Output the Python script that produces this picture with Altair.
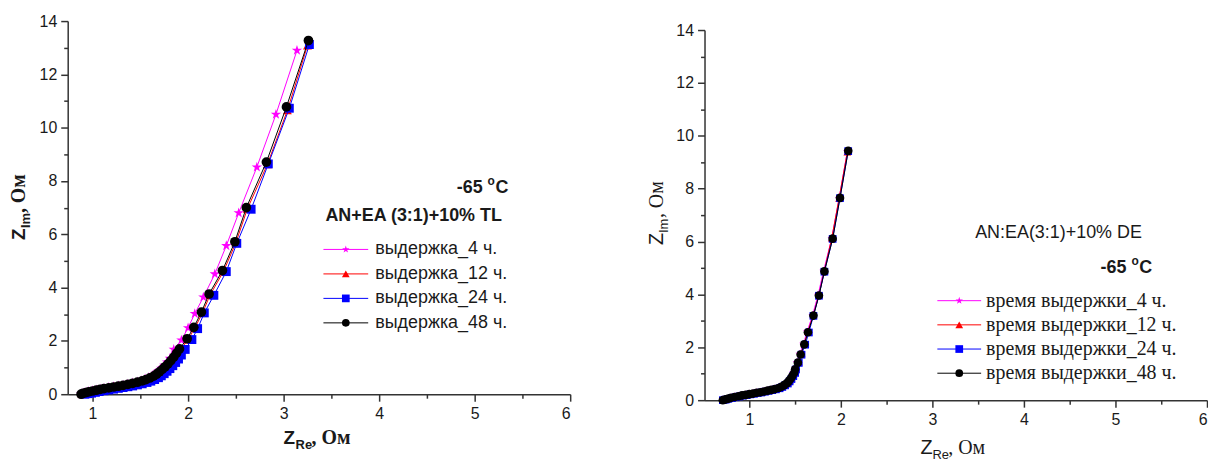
import altair as alt
import pandas as pd

# ---------------- data: left panel (AN+EA (3:1)+10% TL, -65 C) ----------------
L4_x = [0.88, 0.90, 0.93, 0.96, 1.00, 1.04, 1.08, 1.12, 1.17, 1.22, 1.27, 1.32, 1.37, 1.42, 1.47, 1.51, 1.55, 1.59,
        1.63, 1.66, 1.69, 1.72, 1.75, 1.78, 1.81, 1.85, 1.93, 2.00, 2.07, 2.16, 2.28, 2.40, 2.53, 2.72, 2.92, 3.14]
L4_y = [0.00, 0.04, 0.07, 0.10, 0.13, 0.16, 0.19, 0.22, 0.25, 0.28, 0.31, 0.34, 0.38, 0.42, 0.46, 0.51, 0.57, 0.63,
        0.70, 0.78, 0.87, 0.97, 1.08, 1.20, 1.34, 1.68, 2.03, 2.49, 3.02, 3.64, 4.51, 5.57, 6.80, 8.52, 10.50, 12.90]
L12_x = [0.89, 0.91, 0.94, 0.97, 1.01, 1.05, 1.09, 1.13, 1.18, 1.23, 1.28, 1.33, 1.38, 1.43, 1.48, 1.53, 1.57, 1.61,
         1.65, 1.68, 1.71, 1.74, 1.77, 1.80, 1.83, 1.86, 1.89, 1.92, 2.00, 2.07, 2.15, 2.23, 2.37, 2.50, 2.62, 2.83,
         3.04, 3.25]
L12_y = [0.02, 0.06, 0.09, 0.12, 0.15, 0.18, 0.21, 0.24, 0.27, 0.30, 0.33, 0.36, 0.39, 0.43, 0.47, 0.52, 0.57, 0.63,
         0.69, 0.76, 0.84, 0.93, 1.03, 1.13, 1.25, 1.38, 1.52, 1.67, 2.05, 2.48, 3.04, 3.72, 4.60, 5.68, 6.95, 8.62,
         10.65, 13.08]
L24_x = [0.92, 0.95, 0.99, 1.03, 1.07, 1.12, 1.17, 1.22, 1.27, 1.32, 1.37, 1.42, 1.47, 1.52, 1.57, 1.61, 1.65, 1.69,
         1.72, 1.75, 1.78, 1.81, 1.84, 1.87, 1.90, 1.93, 1.97, 2.04, 2.10, 2.17, 2.27, 2.40, 2.51, 2.66, 2.84, 3.06,
         3.27]
L24_y = [0.00, 0.02, 0.04, 0.07, 0.10, 0.13, 0.16, 0.19, 0.22, 0.25, 0.28, 0.31, 0.35, 0.39, 0.44, 0.49, 0.55, 0.62,
         0.69, 0.77, 0.86, 0.96, 1.07, 1.19, 1.32, 1.47, 1.68, 2.05, 2.46, 3.05, 3.71, 4.60, 5.66, 6.94, 8.64, 10.73,
         13.12]
L48_x = [0.88, 0.90, 0.93, 0.96, 1.00, 1.04, 1.08, 1.12, 1.17, 1.22, 1.27, 1.32, 1.37, 1.42, 1.47, 1.52, 1.56, 1.60,
         1.64, 1.67, 1.70, 1.73, 1.76, 1.79, 1.82, 1.85, 1.88, 1.91, 1.99, 2.06, 2.14, 2.22, 2.36, 2.49, 2.61, 2.82,
         3.03, 3.26]
L48_y = [0.00, 0.03, 0.06, 0.09, 0.12, 0.15, 0.18, 0.21, 0.24, 0.27, 0.30, 0.33, 0.37, 0.41, 0.45, 0.50, 0.55, 0.61,
         0.68, 0.75, 0.84, 0.93, 1.03, 1.14, 1.26, 1.39, 1.54, 1.70, 2.08, 2.51, 3.08, 3.76, 4.64, 5.72, 7.00, 8.71,
         10.78, 13.27]

# ---------------- data: right panel (AN:EA(3:1)+10% DE, -65 C) ----------------
R4_x = [0.71, 0.74, 0.77, 0.80, 0.84, 0.88, 0.92, 0.96, 1.00, 1.04, 1.08, 1.12, 1.16, 1.20, 1.24, 1.28, 1.32, 1.35,
        1.38, 1.41, 1.43, 1.45, 1.47, 1.48, 1.50, 1.52, 1.55, 1.59, 1.63, 1.69, 1.75, 1.81, 1.90, 1.98, 2.07]
R4_y = [0.01, 0.04, 0.07, 0.10, 0.13, 0.16, 0.19, 0.21, 0.24, 0.26, 0.29, 0.31, 0.34, 0.37, 0.40, 0.43, 0.47, 0.52,
        0.58, 0.65, 0.73, 0.82, 0.93, 1.05, 1.18, 1.43, 1.74, 2.12, 2.58, 3.21, 3.97, 4.88, 6.12, 7.62, 9.40]
R12_x = [0.72, 0.75, 0.78, 0.81, 0.85, 0.89, 0.93, 0.97, 1.01, 1.05, 1.09, 1.13, 1.17, 1.21, 1.25, 1.29, 1.33, 1.36,
         1.39, 1.42, 1.44, 1.46, 1.48, 1.50, 1.51, 1.54, 1.57, 1.60, 1.64, 1.70, 1.76, 1.82, 1.90, 1.98, 2.07]
R12_y = [0.02, 0.06, 0.09, 0.12, 0.15, 0.18, 0.21, 0.23, 0.26, 0.28, 0.31, 0.33, 0.36, 0.39, 0.42, 0.45, 0.49, 0.54,
         0.60, 0.67, 0.75, 0.84, 0.95, 1.07, 1.20, 1.45, 1.76, 2.13, 2.59, 3.22, 3.98, 4.90, 6.13, 7.63, 9.38]
R24_x = [0.71, 0.74, 0.77, 0.81, 0.85, 0.89, 0.93, 0.97, 1.01, 1.05, 1.09, 1.13, 1.17, 1.21, 1.25, 1.29, 1.33, 1.36,
         1.39, 1.42, 1.44, 1.46, 1.48, 1.50, 1.51, 1.54, 1.57, 1.61, 1.65, 1.70, 1.76, 1.82, 1.91, 1.99, 2.08]
R24_y = [0.00, 0.02, 0.05, 0.08, 0.11, 0.14, 0.17, 0.19, 0.22, 0.24, 0.27, 0.29, 0.32, 0.35, 0.38, 0.41, 0.45, 0.50,
         0.56, 0.63, 0.71, 0.80, 0.91, 1.03, 1.16, 1.41, 1.72, 2.10, 2.56, 3.19, 3.95, 4.86, 6.10, 7.64, 9.42]
R48_x = [0.71, 0.74, 0.77, 0.80, 0.84, 0.88, 0.92, 0.96, 1.00, 1.04, 1.08, 1.12, 1.16, 1.20, 1.24, 1.28, 1.32, 1.35,
         1.38, 1.41, 1.43, 1.45, 1.47, 1.49, 1.50, 1.53, 1.56, 1.60, 1.64, 1.70, 1.76, 1.82, 1.91, 1.99, 2.08]
R48_y = [0.00, 0.03, 0.06, 0.09, 0.12, 0.15, 0.18, 0.20, 0.23, 0.25, 0.28, 0.30, 0.33, 0.36, 0.39, 0.42, 0.46, 0.51,
         0.57, 0.64, 0.72, 0.81, 0.92, 1.04, 1.17, 1.42, 1.73, 2.11, 2.57, 3.20, 3.96, 4.87, 6.11, 7.65, 9.43]

left_names = ["выдержка_4 ч.", "выдержка_12 ч.", "выдержка_24 ч.", "выдержка_48 ч."]
right_names = ["время выдержки_4 ч.", "время выдержки_12 ч.", "время выдержки_24 ч.", "время выдержки_48 ч."]
colors = ["#FF00FF", "#FF0000", "#0000FF", "#000000"]
STAR = ("M0,-1L0.2245,-0.309L0.951,-0.309L0.363,0.118L0.588,0.809L0,0.382L-0.588,0.809"
        "L-0.363,0.118L-0.951,-0.309L-0.2245,-0.309Z")
shapes = [STAR, "triangle-up", "square", "circle"]
marker_sizes_left = [120, 80, 80, 95]
marker_sizes_right = [80, 60, 60, 75]

x_ticks = [1, 1.5, 2, 2.5, 3, 3.5, 4, 4.5, 5, 5.5, 6]
y_ticks = list(range(0, 15))

AX = "#333333"
TXT = "#1a1a1a"
SANS = "Liberation Sans"
SERIF = "Liberation Serif"


def x_axis():
    return alt.Axis(values=x_ticks, title=None, grid=False,
                    labelExpr="datum.value % 1 == 0 ? format(datum.value, 'd') : ''",
                    tickSize={"condition": {"test": "datum.value % 1 != 0", "value": 4}, "value": 7},
                    domainColor=AX, tickColor=AX, domainWidth=1.5, tickWidth=1.5,
                    labelFont=SANS, labelFontSize=16, labelColor=TXT, labelPadding=4)


def y_axis():
    return alt.Axis(values=y_ticks, title=None, grid=False,
                    labelExpr="datum.value % 2 == 0 ? format(datum.value, 'd') : ''",
                    tickSize={"condition": {"test": "datum.value % 2 != 0", "value": 4}, "value": 7},
                    domainColor=AX, tickColor=AX, domainWidth=1.5, tickWidth=1.5,
                    labelFont=SANS, labelFontSize=16, labelColor=TXT, labelPadding=4)


def txt(s, x, y, size, font, weight="normal", align="left", baseline="alphabetic", angle=0):
    return alt.Chart(pd.DataFrame({"t": [s]})).mark_text(
        align=align, baseline=baseline, font=font, fontSize=size, fontWeight=weight,
        angle=angle, color=TXT).encode(x=alt.value(x), y=alt.value(y), text="t:N")


def series_layers(xs, ys, xscale, yscale, sizes):
    layers = []
    for k, (sx, sy) in enumerate(zip(xs, ys)):
        df = pd.DataFrame({"x": sx, "y": sy, "i": list(range(len(sx)))})
        enc = dict(x=alt.X("x:Q", scale=xscale, axis=x_axis()),
                   y=alt.Y("y:Q", scale=yscale, axis=y_axis()),
                   order="i:Q")
        layers.append(alt.Chart(df).mark_line(color=colors[k], strokeWidth=1).encode(**enc))
        layers.append(alt.Chart(df).mark_point(shape=shapes[k], filled=True, color=colors[k], opacity=1,
                                               size=sizes[k], strokeWidth=0).encode(**enc))
    return layers


def legend_layers(names, x0, x1, xm, xt, y0, dy, font, fsize):
    layers = []
    for k, name in enumerate(names):
        yy = y0 + k * dy
        one = pd.DataFrame({"t": [name]})
        layers.append(alt.Chart(one).mark_rule(color=colors[k], strokeWidth=1).encode(
            x=alt.value(x0), x2=alt.value(x1), y=alt.value(yy)))
        layers.append(alt.Chart(one).mark_point(shape=shapes[k], filled=True, color=colors[k], opacity=1,
                                                size=60, strokeWidth=0).encode(x=alt.value(xm), y=alt.value(yy)))
        layers.append(alt.Chart(one).mark_text(align="left", baseline="middle", font=font, fontSize=fsize,
                                               color=TXT).encode(x=alt.value(xt), y=alt.value(yy), text="t:N"))
    return layers


# ---------------- left panel ----------------
lx = alt.Scale(domain=[0.74, 6], nice=False, zero=False)
ly = alt.Scale(domain=[0, 14], nice=False, zero=False)
left_layers = series_layers([L4_x, L12_x, L24_x, L48_x], [L4_y, L12_y, L24_y, L48_y], lx, ly, marker_sizes_left)
left_layers += [
    txt("-65", 417, 173, 18, SANS, "bold", align="right"),
    txt("o", 422, 165, 12, SANS, "bold"),
    txt("C", 430, 173, 18, SANS, "bold"),
    txt("AN+EA (3:1)+10% TL", 259, 201, 18, SANS, "bold"),
    # x title
    txt("Z", 217, 425, 19, SANS, "bold"),
    txt("Re", 229, 430, 13, SANS, "bold"),
    txt(", Ом", 245, 425, 20, SERIF, "bold"),
    # y title (rotated)
    txt("Z", -43, 220, 19, SANS, "bold", angle=270),
    txt("Im", -38, 208, 13, SANS, "bold", angle=270),
    txt(", Ом", -43, 193, 20, SERIF, "bold", angle=270),
]
left_layers += legend_layers(left_names, 257, 302, 279.5, 309, 229.5, 24.6, SANS, 18)
left = alt.layer(*left_layers).properties(width=505, height=375)

# ---------------- right panel ----------------
rx = alt.Scale(domain=[0.51, 6], nice=False, zero=False)
ry = alt.Scale(domain=[0, 14], nice=False, zero=False, range=[381, 9])
right_layers = series_layers([R4_x, R12_x, R24_x, R48_x], [R4_y, R12_y, R24_y, R48_y], rx, ry, marker_sizes_right)
right_layers += [
    txt("AN:EA(3:1)+10% DE", 272, 218, 18, SANS),
    txt("-65", 424, 253, 18, SANS, "bold", align="right"),
    txt("o", 429, 245, 12, SANS, "bold"),
    txt("C", 437, 253, 18, SANS, "bold"),
    # x title
    txt("Z", 217, 435, 20, SANS),
    txt("Re", 229, 440, 13, SANS),
    txt(", Ом", 245, 435, 20, SERIF),
    # y title (rotated)
    txt("Z", -42, 225, 20, SANS, angle=270),
    txt("Im", -37, 213, 13, SANS, angle=270),
    txt(", Ом", -42, 198, 20, SERIF, angle=270),
]
right_layers += legend_layers(right_names, 234, 278, 256, 283, 281, 24.3, SERIF, 20)
right = alt.layer(*right_layers).properties(width=505, height=381)

chart = alt.hconcat(left, right, spacing=135, bounds="flush",
                    padding={"left": 1, "top": 4, "right": 0, "bottom": 0}).configure_view(stroke=None)

chart.save("out.html", embed_options={"renderer": "svg", "actions": False})
